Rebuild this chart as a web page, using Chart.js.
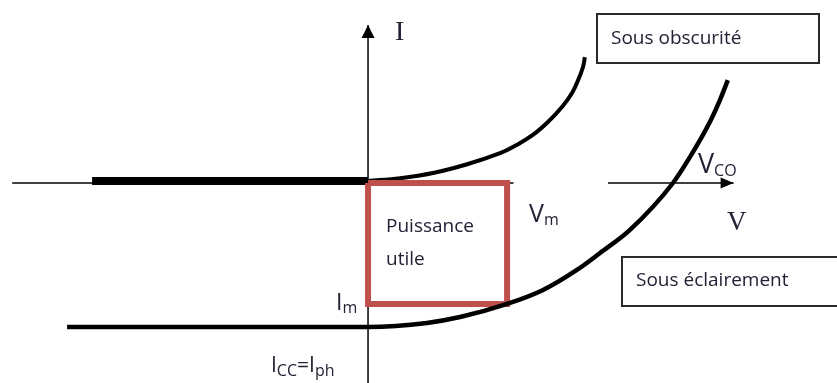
<!DOCTYPE html>
<html>
<head>
<meta charset="utf-8">
<script src="https://cdn.jsdelivr.net/npm/chart.js@4.4.1/dist/chart.umd.min.js"></script>
<style>
  body { margin: 0; background: #fff; }
  #wrap { width: 837px; height: 383px; }
</style>
</head>
<body>
<div id="wrap"><canvas id="ivChart" width="837" height="383"></canvas></div>
<script>
// Caractéristique I(V) d'une cellule photovoltaïque
// Sous obscurité (courbe de diode)
let tensionObs = [0, 0.105, 0.213, 0.325, 0.433, 0.482, 0.538, 0.59, 0.636, 0.669, 0.689, 0.705, 0.711];
let courantObs = [0.014, 0.033, 0.069, 0.13, 0.207, 0.258, 0.33, 0.424, 0.528, 0.625, 0.715, 0.806, 0.875];

// Courant inverse (trait épais)
let tensionInv = [-0.905, 0];
let courantInv = [0.014, 0.014];

// Sous éclairement
let tensionEcl = [-0.987, 0, 0.193, 0.302, 0.456, 0.574, 0.685, 0.761, 0.859, 1.0, 1.056, 1.121, 1.154, 1.18];
let courantEcl = [-1.0, -1.0, -0.972, -0.931, -0.84, -0.743, -0.604, -0.486, -0.326, 0, 0.181, 0.424, 0.576, 0.715];

// Point de puissance maximale
let Vm = 0.456;
let Im = -0.84;

// Axes
let axeVgauche = [-1.167, 0.477];
let axeVdroite = [0.787, 1.199];
let axeI = [-1.389, 1.097];

function pts(xs, ys) {
    return xs.map((x, i) => ({ x: x, y: ys[i] }));
}

let texte = '#222236';

let dessinTextes = {
    id: 'dessinTextes',
    afterDatasetsDraw(chart) {
        let ctx = chart.ctx;
        ctx.save();

        // pointes de flèche des axes
        ctx.fillStyle = '#000';
        let mI = chart.getDatasetMeta(5).data;
        let hautI = mI[mI.length - 1];
        ctx.beginPath();
        ctx.moveTo(hautI.x, hautI.y);
        ctx.lineTo(hautI.x - 6.5, hautI.y + 13);
        ctx.lineTo(hautI.x + 6.5, hautI.y + 13);
        ctx.closePath();
        ctx.fill();
        let mV = chart.getDatasetMeta(4).data;
        let boutV = mV[mV.length - 1];
        ctx.beginPath();
        ctx.moveTo(boutV.x, boutV.y);
        ctx.lineTo(boutV.x - 13, boutV.y - 5.5);
        ctx.lineTo(boutV.x - 13, boutV.y + 5.5);
        ctx.closePath();
        ctx.fill();

        ctx.fillStyle = texte;
        ctx.textBaseline = 'alphabetic';
        ctx.textAlign = 'left';

        // noms des axes
        ctx.font = '28px "Liberation Serif"';
        ctx.fillText('I', 395, 40);
        ctx.font = '27px "Liberation Serif"';
        ctx.fillText('V', 727, 230);

        function indice(main, sub, x, y, tMain, tSub, dy) {
            ctx.font = tMain + 'px "Open Sans"';
            ctx.fillText(main, x, y);
            let w = ctx.measureText(main).width;
            ctx.font = tSub + 'px "Open Sans"';
            ctx.fillText(sub, x + w, y + dy);
            return x + w + ctx.measureText(sub).width;
        }

        indice('V', 'CO', 698, 173, 27, 16, 3);
        indice('V', 'm', 529, 222, 25, 16, 3);
        indice('I', 'm', 336, 310, 23, 16, 3);
        let x = indice('I', 'CC', 271, 372, 21, 16, 4);
        ctx.font = '21px "Open Sans"';
        ctx.fillText('=', x, 372);
        x += ctx.measureText('=').width;
        indice('I', 'ph', x, 372, 21, 16, 4);

        ctx.font = '19px "Open Sans"';
        ctx.fillText('Puissance', 386, 232);
        ctx.fillText('utile', 386, 265);

        // encadrés
        ctx.strokeStyle = '#2a2a2a';
        ctx.lineWidth = 2;
        ctx.strokeRect(597, 14, 222, 49);
        ctx.strokeRect(622, 257, 220, 49);
        ctx.fillText('Sous obscurité', 611, 44);
        ctx.fillText('Sous éclairement', 636, 286);

        ctx.restore();
    }
};

let ctx = document.getElementById('ivChart').getContext('2d');
let ivChart = new Chart(ctx, {
    type: 'scatter',
    data: {
        datasets: [
            {
                data: pts([0, Vm, Vm, 0, 0], [0, 0, Im, Im, 0]),
                borderColor: '#C0504D', borderWidth: 6,
                showLine: true, pointRadius: 0, order: 1, borderJoinStyle: 'miter'
            },
            {
                data: pts(tensionObs, courantObs),
                borderColor: '#000', borderWidth: 4,
                showLine: true, pointRadius: 0, tension: 0.4, order: 2
            },
            {
                data: pts(tensionInv, courantInv),
                borderColor: '#000', borderWidth: 8,
                showLine: true, pointRadius: 0, order: 2
            },
            {
                data: pts(tensionEcl, courantEcl),
                borderColor: '#000', borderWidth: 4.5,
                showLine: true, pointRadius: 0, cubicInterpolationMode: 'monotone', order: 0
            },
            {
                data: pts(axeVdroite, [0, 0]),
                borderColor: '#000', borderWidth: 1.5,
                showLine: true, pointRadius: 0, order: 3
            },
            {
                data: pts([0, 0], axeI),
                borderColor: '#000', borderWidth: 1.5,
                showLine: true, pointRadius: 0, order: 3
            },
            {
                data: pts(axeVgauche, [0, 0]),
                borderColor: '#000', borderWidth: 1.5,
                showLine: true, pointRadius: 0, order: 3
            }
        ]
    },
    options: {
        responsive: false,
        animation: false,
        devicePixelRatio: 1,
        layout: { padding: 0 },
        plugins: { legend: { display: false }, tooltip: { enabled: false } },
        scales: {
            x: { type: 'linear', min: -1.207, max: 1.538, display: false },
            y: { type: 'linear', min: -1.389, max: 1.271, display: false }
        }
    },
    plugins: [dessinTextes]
});
</script>
</body>
</html>
